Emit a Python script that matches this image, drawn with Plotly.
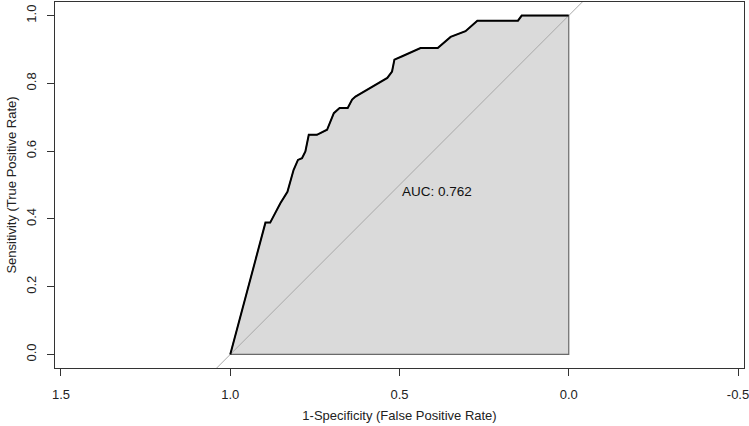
import plotly.graph_objects as go

# ROC curve (specificity axis is reversed)
specificity = [1.0, 0.896, 0.882, 0.852, 0.831, 0.823, 0.813, 0.800, 0.788, 0.778,
               0.768, 0.744, 0.714, 0.694, 0.677, 0.653, 0.640, 0.630, 0.541, 0.536,
               0.522, 0.515, 0.492, 0.438, 0.387, 0.349, 0.305, 0.270, 0.150, 0.139, 0.0]
sensitivity = [0.0, 0.389, 0.389, 0.446, 0.480, 0.510, 0.544, 0.574, 0.579, 0.599,
               0.648, 0.648, 0.663, 0.712, 0.727, 0.727, 0.752, 0.761, 0.811, 0.816,
               0.835, 0.870, 0.880, 0.904, 0.904, 0.937, 0.954, 0.985, 0.985, 1.0, 1.0]
auc_label = "AUC: 0.762"
x_ticks = [1.5, 1.0, 0.5, 0.0, -0.5]
y_ticks = [0.0, 0.2, 0.4, 0.6, 0.8, 1.0]
diag_x = [1.2, -0.2]
diag_y = [-0.2, 1.2]

fig = go.Figure()

# AUC polygon
poly_x = specificity + [0.0, 1.0]
poly_y = sensitivity + [0.0, 0.0]
fig.add_trace(go.Scatter(x=poly_x, y=poly_y, mode="lines", fill="toself",
                         fillcolor="#dadada", line=dict(color="#6a6a6a", width=1.2),
                         hoverinfo="skip", showlegend=False))
# diagonal reference line
fig.add_trace(go.Scatter(x=diag_x, y=diag_y, mode="lines",
                         line=dict(color="#a8a8a8", width=1), hoverinfo="skip",
                         showlegend=False))
# ROC curve
fig.add_trace(go.Scatter(x=specificity, y=sensitivity, mode="lines",
                         line=dict(color="#000000", width=2), showlegend=False))

fig.add_annotation(x=0.5, y=0.48, text=auc_label, showarrow=False, xanchor="left",
                   yanchor="middle", font=dict(size=13.5, color="#111111"))

font = "Liberation Sans, Arial, sans-serif"
fig.update_layout(
    width=749, height=426,
    margin=dict(l=55, r=5, t=2, b=58),
    paper_bgcolor="white", plot_bgcolor="white",
    font=dict(family=font, size=13, color="#222222"),
    xaxis=dict(range=[1.5177, -0.5177], tickvals=x_ticks,
               ticktext=["%.1f" % v for v in x_ticks],
               ticks="outside", ticklen=7, tickcolor="#333333",
               ticklabelstandoff=7, ticklabeloverflow="allow",
               showline=True, linecolor="#333333", linewidth=1, mirror=True,
               showgrid=False, zeroline=False, automargin=False,
               title=dict(text="1-Specificity (False Positive Rate)", standoff=10,
                          font=dict(size=13))),
    yaxis=dict(range=[-0.04, 1.04], tickvals=y_ticks,
               ticktext=["%.1f" % v for v in y_ticks], tickangle=-90,
               ticks="outside", ticklen=7, tickcolor="#333333",
               ticklabelstandoff=6, ticklabeloverflow="allow",
               showline=True, linecolor="#333333", linewidth=1, mirror=True,
               showgrid=False, zeroline=False, automargin=False,
               title=dict(text="Sensitivity (True Positive Rate)", standoff=4,
                          font=dict(size=13))),
)

fig.write_html("out.html")
